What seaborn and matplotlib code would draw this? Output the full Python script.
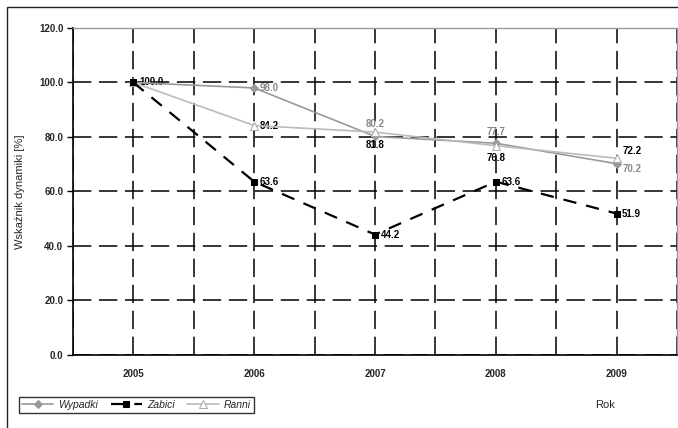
import matplotlib
matplotlib.use("Agg")
import matplotlib.pyplot as plt
import matplotlib.patches as mpatches
import numpy as np
import pandas as pd
import seaborn as sns

# data
years = ["2005", "2006", "2007", "2008", "2009"]
wypadki = [100.0, 98.0, 80.2, 77.7, 70.2]
zabici = [100.0, 63.6, 44.2, 63.6, 51.9]
ranni = [100.0, 84.2, 81.8, 76.8, 72.2]
y_ticks = [0, 20, 40, 60, 80, 100, 120]

sns.set_style("white")
plt.rcParams["font.family"] = ["Liberation Sans", "DejaVu Sans"]

fig = plt.figure(figsize=(6.78, 4.28), dpi=100)
ax = fig.add_axes([0.1077, 0.1706, 0.8908, 0.764])

# outer chart frame
fig.patches.append(mpatches.Rectangle((7 / 678, -0.05), 1.0, 1 - 7 / 428 + 0.05,
                                      transform=fig.transFigure, fill=False,
                                      edgecolor="#222222", linewidth=1.0, zorder=0))

df = pd.DataFrame({"Rok": years, "Wypadki": wypadki, "Zabici": zabici, "Ranni": ranni})

sns.lineplot(data=df, x="Rok", y="Wypadki", ax=ax, color="#999999", linewidth=1.2,
             marker="D", markersize=4, markerfacecolor="#999999",
             markeredgecolor="#999999", label="Wypadki", zorder=4)
sns.lineplot(data=df, x="Rok", y="Zabici", ax=ax, color="black", linewidth=1.6,
             linestyle=(0, (6, 4.5)), marker="s", markersize=5,
             markerfacecolor="black", markeredgecolor="black",
             label="Zabici", zorder=5)
sns.lineplot(data=df, x="Rok", y="Ranni", ax=ax, color="#bbbbbb", linewidth=1.2,
             marker="^", markersize=6, markerfacecolor="white",
             markeredgecolor="#aaaaaa", label="Ranni", zorder=4)

# value labels
lab_kw = dict(textcoords="offset points", fontsize=7, fontweight="bold", va="center")
ax.annotate("100.0", (0, 100.0), xytext=(4, 0), color="black", ha="left", **lab_kw)
w_off = [None, (4, 0), (0, 9), (0, 8), (4, -4)]
for i in range(1, 5):
    ax.annotate(f"{wypadki[i]:.1f}", (i, wypadki[i]), xytext=w_off[i],
                color="#888888", ha="left" if w_off[i][0] else "center", **lab_kw)
r_off = [None, (4, 0), (0, -9), (0, -9), (4, 5)]
for i in range(1, 5):
    ax.annotate(f"{ranni[i]:.1f}", (i, ranni[i]), xytext=r_off[i],
                color="black", ha="left" if r_off[i][0] else "center", **lab_kw)
for i in range(1, 5):
    ax.annotate(f"{zabici[i]:.1f}", (i, zabici[i]), xytext=(4, 0),
                color="black", ha="left", **lab_kw)

# axes
ax.set_xlim(-0.5, 4.5)
ax.set_ylim(0, 120)
ax.set_yticks(y_ticks)
ax.set_yticklabels([f"{v:.1f}" for v in y_ticks], fontsize=7, fontweight="bold")
ax.set_xticks(range(len(years)))
ax.set_xticklabels(years, fontsize=7, fontweight="bold")
ax.set_xticks(np.arange(-0.5, 5, 1.0), minor=True)
ax.tick_params(axis="x", which="major", length=0, pad=10)
ax.tick_params(axis="x", which="minor", length=7, direction="inout", width=1, color="black")
ax.tick_params(axis="y", which="major", length=4, width=1, color="black", pad=3, left=True)

grid_kw = dict(color="black", linewidth=1.1, linestyle=(0, (12, 5)))
ax.yaxis.grid(True, **grid_kw)
ax.xaxis.grid(True, which="both", **grid_kw)
ax.set_axisbelow(True)

for side in ["left", "bottom"]:
    ax.spines[side].set_color("black")
    ax.spines[side].set_linewidth(1.2)
for side in ["top", "right"]:
    ax.spines[side].set_color("#999999")
    ax.spines[side].set_linewidth(1.0)

ax.set_xlabel("")
ax.set_ylabel("Wskaźnik dynamiki [%]", fontsize=8, labelpad=10)
fig.text(605 / 678, 1 - 405 / 428, "Rok", fontsize=8, ha="center", va="center")

ax.legend_.remove()
h, l = ax.get_legend_handles_labels()
leg = fig.legend(h, l, loc="lower left", bbox_to_anchor=(19 / 678, 1 - 413 / 428),
                 ncol=3, frameon=True, fancybox=False, handlelength=3,
                 columnspacing=1.2, handletextpad=0.5, borderpad=0.3,
                 borderaxespad=0, prop={"style": "italic", "size": 7.5})
leg.get_frame().set_edgecolor("black")
leg.get_frame().set_linewidth(1.0)

fig.savefig("out.png", dpi=100)
